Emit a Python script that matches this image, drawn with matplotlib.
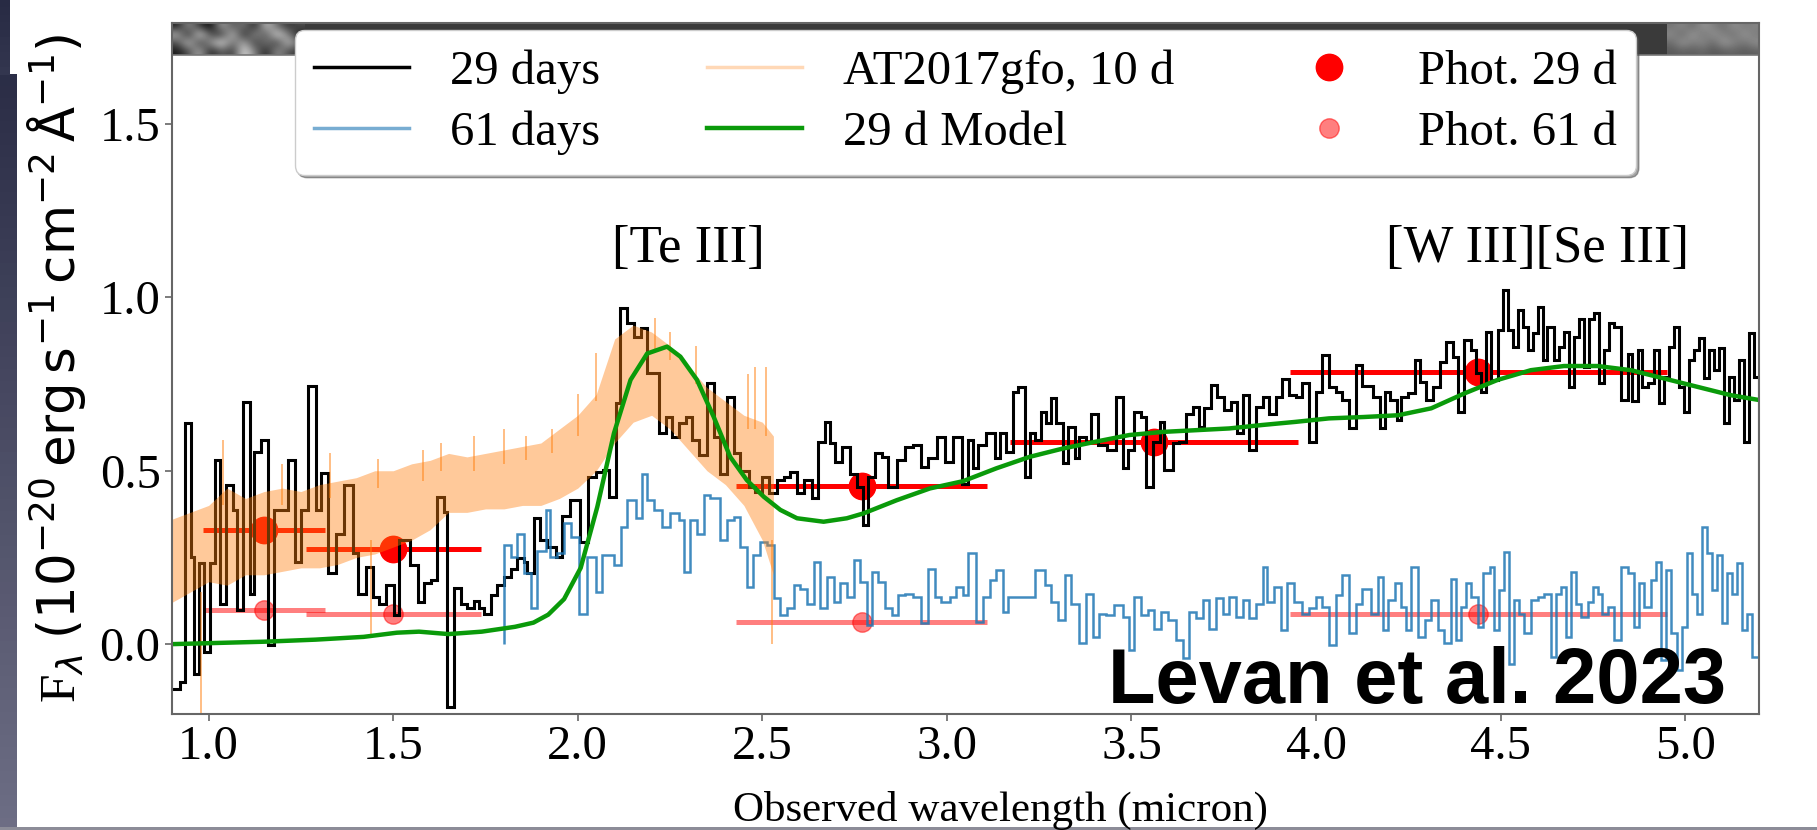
import numpy as np
import matplotlib.pyplot as plt
from matplotlib.colors import LinearSegmentedColormap
from matplotlib.lines import Line2D

plt.rcParams['font.family'] = 'serif'
plt.rcParams['font.serif'] = ['Liberation Serif', 'DejaVu Serif']
plt.rcParams['mathtext.fontset'] = 'dejavusans'

# 29 d spectrum: bin left edges (micron) and flux (1e-20 erg/s/cm2/A)
d29_left = [
    0.899, 0.922, 0.937, 0.951, 0.960, 0.973, 0.987, 1.003, 1.016, 1.032,
    1.048, 1.066, 1.077, 1.093, 1.111, 1.124, 1.142, 1.162, 1.178, 1.216,
    1.234, 1.250, 1.268, 1.291, 1.305, 1.324, 1.345, 1.368, 1.390, 1.404,
    1.426, 1.444, 1.462, 1.480, 1.503, 1.516, 1.546, 1.566, 1.584, 1.602,
    1.620, 1.638, 1.647, 1.665, 1.683, 1.701, 1.719, 1.732, 1.746, 1.764,
    1.782, 1.800, 1.818, 1.836, 1.854, 1.863, 1.881, 1.899, 1.917, 1.940,
    1.958,
    1.979, 2.006, 2.028, 2.049, 2.069, 2.085, 2.103, 2.114, 2.134, 2.152,
    2.170, 2.188, 2.220, 2.238, 2.256, 2.274, 2.292, 2.310, 2.328, 2.350,
    2.368, 2.386, 2.404, 2.422, 2.440, 2.463, 2.481, 2.499, 2.517, 2.540,
    2.558, 2.576, 2.594, 2.612, 2.634, 2.652, 2.670, 2.684, 2.697, 2.715,
    2.738, 2.756, 2.774, 2.787, 2.805, 2.823, 2.841, 2.864, 2.886, 2.909,
    2.931, 2.949, 2.972, 2.995, 3.017, 3.040,
    3.058, 3.071, 3.085, 3.107, 3.130, 3.143, 3.161, 3.179, 3.193, 3.211,
    3.224, 3.238, 3.256, 3.269, 3.283, 3.296, 3.314, 3.328, 3.346, 3.359,
    3.377, 3.391, 3.409, 3.433, 3.458, 3.476, 3.490, 3.508, 3.526, 3.539,
    3.558, 3.576, 3.589, 3.612, 3.630, 3.648, 3.666, 3.684, 3.697, 3.715,
    3.733, 3.751, 3.769, 3.787, 3.801, 3.819, 3.837, 3.855, 3.873, 3.891,
    3.909, 3.927, 3.945, 3.963, 3.981, 3.999, 4.017, 4.035, 4.053, 4.071,
    4.089, 4.107,
    4.125, 4.155, 4.173, 4.186, 4.200, 4.218, 4.231, 4.249, 4.267, 4.281,
    4.299, 4.317, 4.335, 4.353, 4.371, 4.384, 4.402, 4.420, 4.434, 4.447,
    4.461, 4.474, 4.492, 4.506, 4.519, 4.533, 4.546, 4.560, 4.573, 4.587,
    4.600, 4.614, 4.627, 4.645, 4.659, 4.673, 4.686, 4.700, 4.713, 4.727,
    4.740, 4.754, 4.767, 4.781, 4.794, 4.808, 4.826, 4.844, 4.857, 4.871,
    4.884, 4.898, 4.916, 4.929, 4.943, 4.956, 4.970, 4.983, 4.997, 5.010,
    5.024, 5.037, 5.051, 5.064, 5.078, 5.091, 5.105, 5.118, 5.132, 5.146,
    5.159, 5.173, 5.186,
]
d29_flux = [
    -0.128, -0.109, 0.637, 0.252, -0.085, 0.233, -0.022, 0.233, 0.531, 0.117,
    0.459, 0.387, 0.098, 0.699, 0.146, 0.555, 0.588, -0.003, 0.387, 0.531,
    0.238, 0.387, 0.744, 0.387, 0.494, 0.204, 0.319, 0.459, 0.262, 0.146,
    0.223, 0.137, 0.117, 0.170, 0.084, 0.300, 0.228, 0.122, 0.175, 0.185,
    0.425, 0.380, -0.181, 0.161, 0.117, 0.103, 0.125, 0.103, 0.088, 0.141,
    0.170, 0.194, 0.218, 0.247, 0.237, 0.204, 0.363, 0.300, 0.280, 0.252,
    0.370,
    0.415, 0.295, 0.483, 0.497, 0.502, 0.425, 0.694, 0.968, 0.925, 0.887,
    0.911, 0.781, 0.608, 0.656, 0.598, 0.637, 0.656, 0.588, 0.545, 0.752,
    0.598, 0.492, 0.713, 0.550, 0.500, 0.454, 0.440, 0.483, 0.435, 0.473,
    0.483, 0.497, 0.435, 0.473, 0.420, 0.583, 0.641, 0.579, 0.526, 0.569,
    0.492, 0.454, 0.343, 0.483, 0.550, 0.540, 0.454, 0.531, 0.569, 0.574,
    0.512, 0.536, 0.598, 0.526, 0.598, 0.463,
    0.588, 0.507, 0.574, 0.608, 0.536, 0.608, 0.555, 0.728, 0.742, 0.483,
    0.608, 0.588, 0.670, 0.637, 0.709, 0.637, 0.521, 0.627, 0.536, 0.598,
    0.584, 0.665, 0.574, 0.560, 0.713, 0.507, 0.560, 0.670, 0.656, 0.454,
    0.584, 0.641, 0.502, 0.579, 0.584, 0.665, 0.685, 0.627, 0.680, 0.747,
    0.713, 0.675, 0.699, 0.608, 0.718, 0.560, 0.685, 0.713, 0.665, 0.713,
    0.766, 0.718, 0.713, 0.752, 0.584, 0.728, 0.834, 0.742, 0.728, 0.704,
    0.622, 0.805,
    0.745, 0.713, 0.622, 0.728, 0.704, 0.646, 0.713, 0.723, 0.819, 0.757,
    0.704, 0.742, 0.814, 0.872, 0.829, 0.670, 0.877, 0.848, 0.781, 0.728,
    0.901, 0.762, 0.906, 1.021, 0.906, 0.858, 0.963, 0.915, 0.848, 0.896,
    0.973, 0.819, 0.915, 0.819, 0.858, 0.901, 0.742, 0.886, 0.939, 0.800,
    0.939, 0.954, 0.752, 0.848, 0.925, 0.915, 0.704, 0.838, 0.700, 0.848,
    0.742, 0.752, 0.848, 0.694, 0.771, 0.858, 0.915, 0.742, 0.670, 0.819,
    0.848, 0.882, 0.767, 0.848, 0.790, 0.853, 0.637, 0.771, 0.704, 0.819,
    0.584, 0.896, 0.771,
]

# 61 d spectrum
d61_left = [
    1.800, 1.818, 1.836, 1.854, 1.872, 1.890, 1.913, 1.926, 1.944, 1.962,
    1.981, 2.004, 2.026, 2.049, 2.067, 2.098, 2.116, 2.134, 2.157, 2.175,
    2.188, 2.206, 2.229, 2.251, 2.274, 2.287, 2.305, 2.323, 2.341, 2.359,
    2.386, 2.404, 2.422, 2.440, 2.458, 2.476, 2.495, 2.513, 2.531, 2.549,
    2.567, 2.585, 2.603, 2.621, 2.639, 2.657, 2.675, 2.693, 2.711, 2.729,
    2.747, 2.765, 2.783, 2.796, 2.814, 2.832, 2.850, 2.868, 2.886, 2.909,
    2.931, 2.949, 2.967, 2.985, 3.008, 3.026, 3.044, 3.058,
    3.080, 3.098, 3.116, 3.134, 3.152, 3.166, 3.238, 3.265, 3.283, 3.301,
    3.319, 3.337, 3.359, 3.377, 3.395, 3.413, 3.431, 3.454, 3.476, 3.494,
    3.508, 3.526, 3.544, 3.562, 3.580, 3.598, 3.621, 3.639, 3.657, 3.675,
    3.693, 3.711, 3.729, 3.747, 3.765, 3.783, 3.801, 3.819, 3.837, 3.855,
    3.868, 3.886, 3.904, 3.922, 3.940, 3.963, 3.981, 3.999, 4.017, 4.035,
    4.053, 4.071, 4.089, 4.107, 4.125,
    4.150, 4.168, 4.182, 4.195, 4.213, 4.231, 4.245, 4.258, 4.276, 4.294,
    4.312, 4.330, 4.348, 4.366, 4.380, 4.393, 4.407, 4.420, 4.438, 4.452,
    4.470, 4.483, 4.497, 4.510, 4.524, 4.537, 4.551, 4.564, 4.582, 4.600,
    4.618, 4.637, 4.650, 4.664, 4.677, 4.691, 4.704, 4.718, 4.736, 4.749,
    4.763, 4.776, 4.790, 4.808, 4.826, 4.844, 4.862, 4.875, 4.889, 4.907,
    4.920, 4.934, 4.947, 4.961, 4.979, 4.992, 5.006, 5.019, 5.033, 5.046,
    5.060, 5.073, 5.087, 5.100, 5.114, 5.127, 5.141, 5.155, 5.168, 5.182,
]
d61_flux = [
    0.286, 0.252, 0.319, 0.204, 0.103, 0.270, 0.387, 0.252, 0.262, 0.348,
    0.310, 0.088, 0.252, 0.151, 0.257, 0.228, 0.338, 0.415, 0.363, 0.492,
    0.415, 0.387, 0.338, 0.377, 0.358, 0.209, 0.358, 0.319, 0.430, 0.420,
    0.300, 0.358, 0.367, 0.281, 0.165, 0.257, 0.295, 0.286, 0.132, 0.084,
    0.103, 0.170, 0.160, 0.117, 0.238, 0.103, 0.194, 0.122, 0.175, 0.137,
    0.242, 0.180, 0.055, 0.209, 0.180, 0.103, 0.084, 0.141, 0.146, 0.137,
    0.060, 0.218, 0.137, 0.122, 0.137, 0.165, 0.141, 0.262,
    0.064, 0.137, 0.185, 0.213, 0.093, 0.137, 0.213, 0.170, 0.122, 0.069,
    0.199, 0.117, 0.002, 0.146, 0.021, 0.088, 0.084, 0.113, 0.079, -0.017,
    0.137, 0.084, 0.098, 0.045, 0.093, 0.069, 0.012, -0.041, 0.093, 0.074,
    0.127, 0.045, 0.132, 0.088, 0.137, 0.079, 0.127, 0.074, 0.117, 0.223,
    0.122, 0.165, 0.040, 0.175, 0.122, 0.088, 0.103, 0.137, 0.108, -0.003,
    0.141, 0.199, 0.031, 0.117, 0.160,
    0.088, 0.194, 0.040, 0.127, 0.175, 0.108, 0.040, 0.223, 0.021, 0.069,
    0.127, 0.040, 0.002, 0.189, 0.012, 0.108, 0.175, 0.137, 0.050, 0.204,
    0.223, 0.040, 0.156, 0.266, -0.056, 0.127, 0.088, 0.031, 0.127, 0.137,
    0.146, -0.037, 0.146, 0.165, 0.021, 0.209, 0.117, 0.079, 0.122, 0.165,
    0.146, 0.088, 0.108, 0.012, 0.223, 0.204, 0.050, 0.175, 0.108, 0.185,
    0.238, -0.046, 0.213, 0.031, -0.075, 0.050, 0.262, 0.146, 0.088, 0.338,
    0.262, 0.156, 0.257, 0.060, 0.204, 0.146, 0.233, 0.040, 0.088, -0.037,
]
spec_end = 5.2

# AT2017gfo at 10 d: lower / upper edge of the noisy spectrum
gfo_wave = [0.90, 0.95, 1.00, 1.05, 1.10, 1.15, 1.20, 1.25, 1.30, 1.35,
            1.40, 1.45, 1.50, 1.55, 1.60, 1.65, 1.70, 1.75, 1.80, 1.85,
            1.90, 1.95, 2.00, 2.05, 2.10, 2.15, 2.20, 2.25, 2.30, 2.35,
            2.40, 2.45, 2.50, 2.53]
gfo_low = [0.12, 0.15, 0.18, 0.17, 0.20, 0.20, 0.21, 0.22, 0.22, 0.23,
           0.25, 0.26, 0.28, 0.30, 0.33, 0.38, 0.38, 0.39, 0.39, 0.40,
           0.40, 0.42, 0.45, 0.50, 0.58, 0.64, 0.66, 0.62, 0.56, 0.50,
           0.46, 0.40, 0.30, 0.20]
gfo_high = [0.36, 0.38, 0.40, 0.45, 0.42, 0.44, 0.45, 0.44, 0.46, 0.47,
            0.48, 0.50, 0.50, 0.52, 0.53, 0.55, 0.54, 0.55, 0.56, 0.57,
            0.58, 0.62, 0.66, 0.72, 0.88, 0.92, 0.90, 0.86, 0.80, 0.74,
            0.70, 0.66, 0.64, 0.60]
# isolated noise spikes of the AT2017gfo spectrum
gfo_spike_wave = [0.98, 1.04, 1.20, 1.33, 1.44, 1.46, 1.58, 1.63, 1.72, 1.80,
                  1.86, 1.93, 2.00, 2.05, 2.21, 2.25, 2.32, 2.46, 2.48, 2.51, 2.525]
gfo_spike_low = [-0.20, 0.40, 0.40, 0.42, 0.03, 0.45, 0.47, 0.50, 0.50, 0.52,
                 0.53, 0.55, 0.60, 0.70, 0.85, 0.82, 0.75, 0.62, 0.62, 0.60, 0.00]
gfo_spike_high = [0.15, 0.59, 0.52, 0.55, 0.30, 0.535, 0.56, 0.58, 0.60, 0.62,
                  0.60, 0.62, 0.72, 0.84, 0.94, 0.90, 0.86, 0.78, 0.80, 0.80, 0.30]

# 29 d model
model_wave = [0.90, 1.15, 1.29, 1.42, 1.51, 1.57, 1.65, 1.74, 1.83, 1.88,
              1.92, 1.963, 2.008, 2.053, 2.098, 2.143, 2.188, 2.242, 2.278, 2.323,
              2.368, 2.413, 2.458, 2.504, 2.549, 2.594, 2.666, 2.729, 2.774, 2.864,
              2.954, 3.044, 3.134, 3.224, 3.314, 3.404, 3.494, 3.585, 3.675, 3.765,
              3.855, 3.945, 4.035, 4.130, 4.222, 4.312, 4.402, 4.492, 4.582, 4.672,
              4.763, 4.853, 4.943, 5.033, 5.123, 5.200]
model_flux = [0.000, 0.007, 0.013, 0.021, 0.033, 0.036, 0.029, 0.036, 0.050, 0.062,
              0.085, 0.130, 0.220, 0.396, 0.608, 0.762, 0.838, 0.858, 0.829, 0.762,
              0.656, 0.540, 0.473, 0.425, 0.387, 0.363, 0.353, 0.363, 0.377, 0.415,
              0.449, 0.470, 0.507, 0.540, 0.564, 0.584, 0.603, 0.612, 0.617, 0.622,
              0.632, 0.641, 0.651, 0.655, 0.660, 0.680, 0.723, 0.762, 0.790, 0.802,
              0.802, 0.790, 0.766, 0.742, 0.718, 0.704]

# NIRCam photometry (filter centre, flux, filter half width)
phot29_wave = [1.15, 1.50, 2.77, 3.56, 4.44]
phot29_flux = [0.330, 0.275, 0.455, 0.584, 0.786]
phot29_hw = [0.165, 0.237, 0.34, 0.39, 0.51]
phot61_wave = [1.15, 1.50, 2.77, 4.44]
phot61_flux = [0.098, 0.088, 0.064, 0.088]
phot61_hw = [0.165, 0.237, 0.34, 0.51]

# 2D spectrum cut-outs along the top edge (grey levels)
strip_left = [
    [0.10, 0.60, 0.20, 0.00, 0.70, 0.30, 0.50, 0.10, 0.80, 0.40, 0.20, 0.30],
    [0.70, 0.10, 0.90, 0.30, 0.20, 0.80, 0.10, 0.60, 0.30, 0.90, 0.50, 0.10],
    [0.30, 0.80, 0.20, 0.60, 0.90, 0.40, 0.70, 0.20, 0.50, 0.20, 0.80, 0.40],
    [0.10, 0.30, 0.70, 0.10, 0.40, 0.20, 0.90, 0.50, 0.10, 0.60, 0.30, 0.20],
]
strip_right = [
    [0.45, 0.55, 0.40, 0.60, 0.50, 0.42, 0.58, 0.47, 0.52],
    [0.55, 0.40, 0.62, 0.45, 0.58, 0.50, 0.44, 0.60, 0.48],
    [0.42, 0.60, 0.48, 0.55, 0.40, 0.62, 0.52, 0.45, 0.57],
    [0.35, 0.38, 0.36, 0.40, 0.34, 0.37, 0.39, 0.35, 0.38],
]

FS = 35

fig = plt.figure(figsize=(18.17, 8.30), dpi=100)

# slide background along the left and bottom edges
bg = fig.add_axes([0, 0, 1, 1], zorder=-10)
bg.set_xlim(0, 1817)
bg.set_ylim(830, 0)
bg.axis('off')
grad = np.linspace(0, 1, 64).reshape(-1, 1)
bg.imshow(grad, cmap=LinearSegmentedColormap.from_list('slide', ['#2b2e47', '#6d6d84']),
          extent=(0, 17, 830, 75), aspect='auto')
bg.imshow(grad[:10], cmap=LinearSegmentedColormap.from_list('slide2', ['#282b44', '#33364f']),
          extent=(0, 10, 75, 0), aspect='auto')
bg.fill_between([0, 1817], 827, 830, color='#8c8c98', lw=0)

ax = fig.add_axes([171.7 / 1817, 1 - 713.5 / 830, (1759 - 171.7) / 1817, (713.5 - 22.7) / 830])

# photometry underneath the spectra
ax.errorbar(phot29_wave, phot29_flux, xerr=phot29_hw, fmt='o', color='red',
            ms=19, elinewidth=3.6, capsize=0, zorder=1)
ax.errorbar(phot61_wave, phot61_flux, xerr=phot61_hw, fmt='o', color='red',
            alpha=0.5, ms=14, elinewidth=3.6, capsize=0, zorder=1)

ax.stairs(d29_flux, np.append(d29_left, spec_end), color='black', lw=2.2, zorder=2)
ax.stairs(d61_flux, np.append(d61_left, spec_end), color='C0', lw=1.8,
          alpha=0.85, zorder=2.1)

ax.fill_between(gfo_wave, gfo_low, gfo_high, color='C1', alpha=0.42, lw=0, zorder=2.2)
ax.vlines(gfo_spike_wave, gfo_spike_low, gfo_spike_high, color='C1', alpha=0.55,
          lw=1.3, zorder=2.2)

ax.plot(model_wave, model_flux, color='#0a9a0a', lw=3.2, zorder=2.3)

# 2D spectrum strip along the top
ax.imshow(strip_left, cmap='gray', vmin=0, vmax=1, extent=(0.9, 1.26, 1.699, 1.792),
          aspect='auto', interpolation='bicubic', zorder=0)
ax.imshow(strip_right, cmap='gray', vmin=0, vmax=1, extent=(4.95, 5.2, 1.699, 1.792),
          aspect='auto', interpolation='bicubic', zorder=0)
ax.fill_between([1.26, 4.95], 1.699, 1.792, color='#3a3a3a', lw=0, zorder=0)
ax.axhline(1.699, color='#777777', lw=1.2, zorder=0.5)

ax.text(2.30, 1.14, '[Te III]', fontsize=38, ha='center', va='center')
ax.text(4.60, 1.14, '[W III][Se III]', fontsize=38, ha='center', va='center')
ax.text(5.11, -0.170, 'Levan et al. 2023', family='Liberation Sans',
        weight='bold', fontsize=56, ha='right', va='baseline', zorder=6)

ax.set_xlim(0.9, 5.2)
ax.set_ylim(-0.2, 1.792)
ax.set_xticks([1.0, 1.5, 2.0, 2.5, 3.0, 3.5, 4.0, 4.5, 5.0])
ax.set_yticks([0.0, 0.5, 1.0, 1.5])
ax.tick_params(labelsize=FS, length=5, width=1.2, color='#666666', pad=3)
for s in ax.spines.values():
    s.set_color('#666666')
    s.set_linewidth(1.5)

ax.set_xlabel('Observed wavelength (micron)', fontsize=31)
ax.xaxis.set_label_coords(0.522, -0.112)
ax.set_ylabel(r'F$_\lambda$ $(10^{-20}\,\mathrm{erg\,s^{-1}\,cm^{-2}\,\AA^{-1}})$',
              fontsize=37)
ax.yaxis.set_label_coords(-0.053, 0.5)

handles = [
    Line2D([], [], color='black', lw=2.5),
    Line2D([], [], color='C0', lw=2.5, alpha=0.6),
    Line2D([], [], color='C1', lw=2.5, alpha=0.3),
    Line2D([], [], color='#0a9a0a', lw=3.2),
    Line2D([], [], color='red', marker='o', ls='none', ms=19),
    Line2D([], [], color='red', alpha=0.5, marker='o', ls='none', ms=14),
]
labels = ['29 days', '61 days', 'AT2017gfo, 10 d', '29 d Model', 'Phot. 29 d', 'Phot. 61 d']
ax.legend(handles, labels, ncol=3, loc='upper center', bbox_to_anchor=(0.5, 1.0),
          fontsize=FS, handlelength=1.95, handletextpad=0.85, columnspacing=2.2,
          borderaxespad=0.15, labelspacing=0.35, shadow=True, fancybox=True,
          framealpha=1)

fig.savefig('out.png', dpi=100)
